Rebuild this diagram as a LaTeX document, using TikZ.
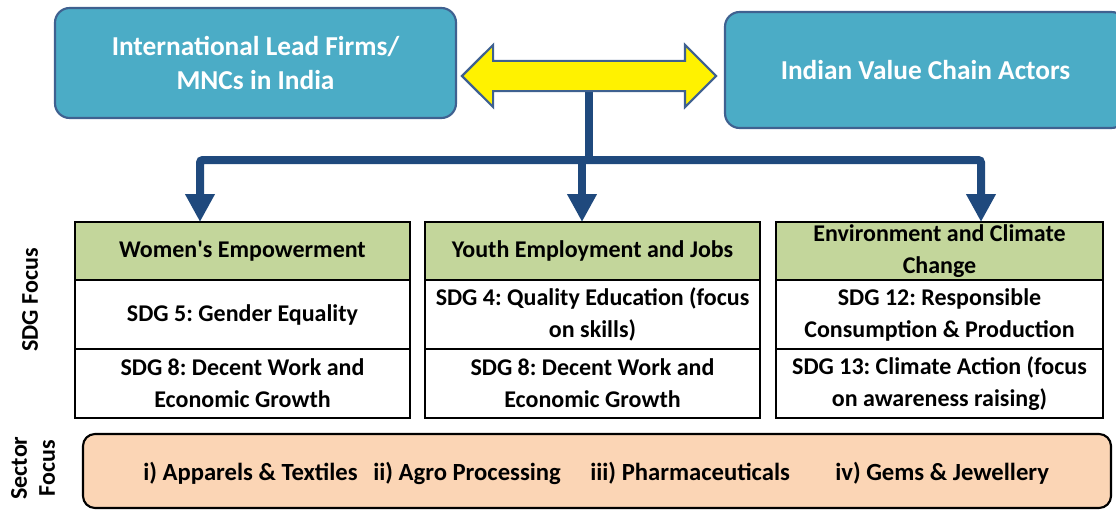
\documentclass[tikz,border=0pt]{standalone}
\usepackage{fontspec}
\setmainfont{Carlito}
\usetikzlibrary{shapes.arrows, arrows.meta, positioning, backgrounds, calc}
\definecolor{tealbox}{HTML}{4BACC6}
\definecolor{slate}{HTML}{3F6190}
\definecolor{navy}{HTML}{1F497D}
\definecolor{sdggreen}{HTML}{C3D69B}
\definecolor{peach}{HTML}{FBD5B5}
\frenchspacing
\tikzset{
    actor/.style={rectangle, draw=slate, line width=1.6pt, fill=tealbox, rounded corners=11pt, text=white, align=center, font=\fontsize{20.5}{25}\selectfont\bfseries},
    head/.style={rectangle, draw, line width=0.8pt, fill=sdggreen, minimum height=43.5pt, align=center, inner sep=0pt, outer sep=0pt, font=\fontsize{18}{24}\selectfont\bfseries},
    cell/.style={rectangle, draw, line width=0.8pt, fill=white, minimum height=51.75pt, align=center, inner sep=0pt, outer sep=0pt, font=\fontsize{18}{24}\selectfont\bfseries},
    frame/.style={draw, line width=2.2pt},
    flow/.style={draw=navy, line width=6pt, rounded corners=2pt, -{Triangle[length=21pt, width=21pt]}},
    bar/.style={draw=navy, line width=6pt},
    sectorbox/.style={rectangle, draw, line width=1.6pt, fill=peach, rounded corners=9pt, minimum width=771pt, minimum height=55.5pt},
    sectoritem/.style={anchor=west, inner sep=0pt, font=\fontsize{18.5}{24}\selectfont\bfseries},
    sidelabel/.style={rotate=90, align=center, font=\fontsize{18}{21}\selectfont\bfseries},
}

\begin{document}
\begin{tikzpicture}[x=0.75pt, y=-0.75pt]
    \useasboundingbox (0,0) rectangle (1116,510);

    % === ACTORS ===
    \node[actor, minimum width=300.75pt, minimum height=82.5pt] (lead) at (255.5,63) {International Lead Firms/\\MNCs in India};
    \node[actor, minimum width=300.75pt, minimum height=87pt] (indian) at (925.5,70) {Indian Value Chain Actors};
    \node[double arrow, draw=slate, line width=1.6pt, fill=yellow, minimum height=190.5pt, inner xsep=0pt, inner ysep=10.5pt, double arrow head extend=12pt] (link) at (589,76) {};

    % === SDG FOCUS ===
    \node[head, minimum width=251.25pt] (women) at (242.5,251) {Women\textquotesingle s Empowerment};
    \node[cell, minimum width=251.25pt, below=0pt of women] (wsdg5) {SDG 5: Gender Equality};
    \node[cell, minimum width=251.25pt, below=0pt of wsdg5] (wsdg8) {SDG 8: Decent Work and\\Economic Growth};

    \node[head, minimum width=251.25pt] (youth) at (592.5,251) {Youth Employment and Jobs};
    \node[cell, minimum width=251.25pt, below=0pt of youth] (ysdg4) {SDG 4: Quality Education (focus\\on skills)};
    \node[cell, minimum width=251.25pt, below=0pt of ysdg4] (ysdg8) {SDG 8: Decent Work and\\Economic Growth};

    \node[head, minimum width=245.25pt] (env) at (939.5,251) {Environment and Climate\\Change};
    \node[cell, minimum width=245.25pt, below=0pt of env] (esdg12) {SDG 12: Responsible\\Consumption \& Production};
    \node[cell, minimum width=245.25pt, below=0pt of esdg12] (esdg13) {SDG 13: Climate Action (focus\\on awareness raising)};

    \draw[frame] (women.north west) rectangle (wsdg8.south east);
    \draw[frame] (youth.north west) rectangle (ysdg8.south east);
    \draw[frame] (env.north west) rectangle (esdg13.south east);

    % === CONNECTORS ===
    \coordinate (lft) at (200,160);
    \coordinate (mid) at (582,160);
    \coordinate (rgt) at (981,160);
    \begin{scope}[on background layer]
        \draw[bar] (link.center) -- (link.center |- mid);
    \end{scope}
    \draw[flow] (mid) -| (lft |- women.north);
    \draw[flow] (mid) -| (rgt |- env.north);
    \draw[flow] (mid) -- (mid |- youth.north);

    % === SECTOR FOCUS ===
    \node[sectorbox] (sectors) at (597,471) {};
    \node[sectoritem] (apparel) at (143,473) {i) Apparels \& Textiles};
    \node[sectoritem] (agro) at (373,473) {ii) Agro Processing};
    \node[sectoritem] (pharma) at (590,473) {iii) Pharmaceuticals};
    \node[sectoritem] (gems) at (835,473) {iv) Gems \& Jewellery};

    % Side labels
    \node[sidelabel] (sdgfocus) at (30,300) {SDG Focus};
    \node[sidelabel] (sectorfocus) at (33,468) {Sector\\Focus};

\end{tikzpicture}
\end{document}
